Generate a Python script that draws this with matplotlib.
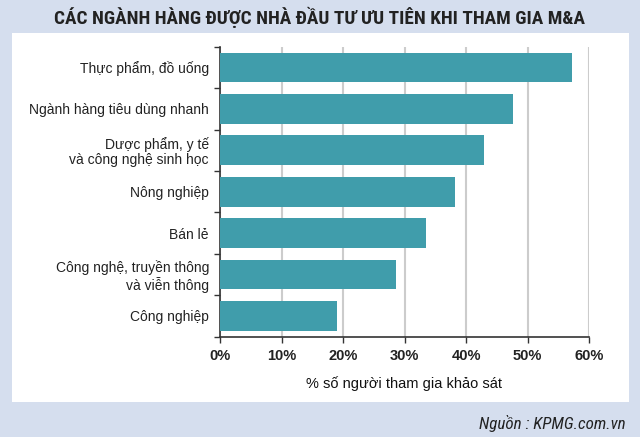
import matplotlib
matplotlib.use("Agg")
import matplotlib.pyplot as plt
from matplotlib.patches import Rectangle
from matplotlib import font_manager
import numpy as np

categories = [
    "Thực phẩm, đồ uống",
    "Ngành hàng tiêu dùng nhanh",
    "Dược phẩm, y tế\nvà công nghệ sinh học",
    "Nông nghiệp",
    "Bán lẻ",
    "Công nghệ, truyền thông\nvà viễn thông",
    "Công nghiệp",
]
values = [57.3, 47.6, 42.9, 38.2, 33.5, 28.6, 19.0]
xticks = [0, 10, 20, 30, 40, 50, 60]
xtick_labels = ["0%", "10%", "20%", "30%", "40%", "50%", "60%"]

title = "CÁC NGÀNH HÀNG ĐƯỢC NHÀ ĐẦU TƯ ƯU TIÊN KHI THAM GIA M&A"
xlabel = "% số người tham gia khảo sát"
source = "Nguồn : KPMG.com.vn"

plt.rcParams['font.family'] = ['Liberation Sans', 'DejaVu Sans']

installed = {f.name for f in font_manager.fontManager.ttflist}
cond_candidates = ['Roboto Condensed', 'Open Sans Condensed', 'Liberation Sans Narrow',
                   'DejaVu Sans Condensed', 'Roboto']
cond = next((c for c in cond_candidates if c in installed), 'DejaVu Sans')

W, H = 640, 437
fig = plt.figure(figsize=(W / 100, H / 100), dpi=100)
fig.patch.set_facecolor("#d5deee")

# white panel
fig.add_artist(Rectangle((12 / W, 1 - 402 / H), (629 - 12) / W, (402 - 33) / H,
                         transform=fig.transFigure, facecolor="white",
                         edgecolor="none", zorder=0))

ax = fig.add_axes([220 / W, 1 - 336.7 / H, (589 - 220) / W, (336.7 - 46.7) / H])
ax.set_facecolor("none")
y = np.arange(len(categories))
ax.barh(y, values, height=0.72, color="#409dab", zorder=3)
ax.set_xlim(0, 60)
ax.set_ylim(len(categories) - 0.5, -0.5)

ax.set_xticks(xticks)
ax.set_xticklabels(xtick_labels, fontsize=10.5, fontweight="bold", color="#222222")
ax.set_yticks(y)
ax.set_yticklabels(categories, fontsize=10, color="#222222", linespacing=1.1)
ax.tick_params(axis="y", length=0, pad=8)
ax.set_yticks(np.arange(-0.5, len(categories), 1.0), minor=True)
ax.tick_params(axis="y", which="minor", length=4, width=1, color="#333333", direction="out")
ax.tick_params(axis="x", length=4, width=1, color="#333333", direction="out", pad=5)

ax.grid(axis="x", color="#cccccc", linewidth=1.5, zorder=0)
ax.set_axisbelow(True)
for s in ["top", "right"]:
    ax.spines[s].set_visible(False)
for s in ["left", "bottom"]:
    ax.spines[s].set_color("#333333")
    ax.spines[s].set_linewidth(1.2)

ax.set_xlabel(xlabel, fontsize=10.5, color="#111111", labelpad=9, fontweight="medium")

t = fig.text(0.5, 1 - 17 / H, title, ha="center", va="center", fontsize=13,
             fontweight="bold", color="#222222", family=[cond, 'DejaVu Sans'])
s = fig.text(626 / W, 1 - 424 / H, source, ha="right", va="center", fontsize=9.5,
             style="italic", color="#222222", family=[cond, 'DejaVu Sans'])

# fit widths to the reference
renderer = fig.canvas.get_renderer()
for txt, target in [(t, 526), (s, 148)]:
    w = txt.get_window_extent(renderer).width
    txt.set_fontsize(txt.get_fontsize() * target / w)

fig.savefig("out.png", dpi=100, facecolor=fig.get_facecolor())
